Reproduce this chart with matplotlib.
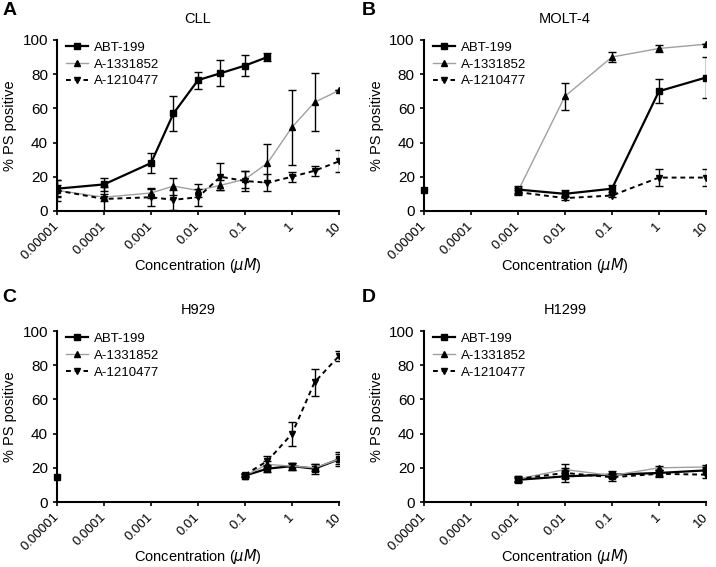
import matplotlib
matplotlib.use('Agg')
from matplotlib import pyplot as plt
from matplotlib.ticker import LogLocator, NullFormatter, FixedLocator

plt.rcParams['font.family'] = ['Liberation Sans', 'DejaVu Sans']

# ---- data ----
# CLL
cll_x = [1e-5, 1e-4, 1e-3, 3e-3, 1e-2, 3e-2, 0.1, 0.3, 1, 3, 10]
cll_abt = [13, 15.5, 28, 57, 76.5, 80.5, 85, 90]
cll_abt_err = [5, 4, 6, 10, 5, 7.5, 6, 2.5]
cll_a133 = [12, 8, 10.5, 14.5, 12, 15, 18.5, 28, 49, 63.5, 70.5]
cll_a133_err = [3, 2, 3, 5, 4, 3, 5, 11, 22, 17, 0]
cll_a121 = [12, 7, 8, 6.5, 8, 20, 17.5, 16.5, 20, 23.5, 29]
cll_a121_err = [6, 7, 5, 6, 5, 8, 6, 5, 3, 3, 6.5]

# MOLT-4
molt_ctrl = 12
molt_x = [1e-3, 1e-2, 0.1, 1, 10]
molt_abt = [12.5, 10, 13, 70, 78]
molt_abt_err = [2, 2, 2, 7, 12]
molt_a133 = [11.5, 67, 90, 95, 97.5]
molt_a133_err = [2, 8, 3, 2, 0]
molt_a121 = [11, 7.5, 9, 19.5, 19.5]
molt_a121_err = [1, 1, 1, 5, 5]

# H929
h929_ctrl = 14.5
h929_x = [0.1, 0.3, 1, 3, 10]
h929_abt = [15.5, 19.5, 21, 19.5, 25]
h929_abt_err = [1, 2, 2, 3, 4]
h929_a133 = [15.5, 22, 21, 20, 25]
h929_a133_err = [1, 2, 2, 2, 3]
h929_a121 = [16, 24, 40, 70, 85.5]
h929_a121_err = [1, 3, 7, 8, 3]

# H1299
h1299_x = [1e-3, 1e-2, 0.1, 1, 10]
h1299_abt = [13, 15, 16, 17, 18.5]
h1299_abt_err = [1, 3, 2, 2, 2]
h1299_a133 = [13.5, 19, 15.5, 20, 20.5]
h1299_a133_err = [1, 3, 1, 1, 1]
h1299_a121 = [13.5, 17, 14.5, 16.5, 16]
h1299_a121_err = [2, 3, 2, 2, 2]

tick_vals = [1e-5, 1e-4, 1e-3, 1e-2, 0.1, 1, 10]
tick_labels = ['0.00001', '0.0001', '0.001', '0.01', '0.1', '1', '10']
names = ['ABT-199', 'A-1331852', 'A-1210477']

styles = [
    dict(color='black', lw=1.6, ls='-', marker='s', ms=5),
    dict(color='#a0a0a0', lw=1.0, ls='-', marker='^', ms=5, mfc='black', mec='black'),
    dict(color='black', lw=1.4, ls=(0, (2.5, 2)), marker='v', ms=5),
]


def draw_series(ax, x, y, err, st, label):
    ax.plot(x[:len(y)], y, label=label, zorder=3, **st)
    ax.errorbar(x[:len(y)], y, yerr=err, fmt='none', ecolor='black',
                elinewidth=1.0, capsize=3, capthick=1.0, zorder=4)


def setup(ax, title, letter, lx, ly):
    ax.set_xscale('log')
    ax.set_xlim(1e-5, 10)
    ax.set_ylim(0, 100)
    ax.set_yticks([0, 20, 40, 60, 80, 100])
    ax.xaxis.set_major_locator(FixedLocator(tick_vals))
    ax.set_xticklabels(tick_labels, rotation=45, ha='right', va='center',
                       rotation_mode='anchor', fontsize=9.5)
    ax.xaxis.set_minor_locator(LogLocator(base=10, subs=range(2, 10)))
    ax.xaxis.set_minor_formatter(NullFormatter())
    ax.tick_params(axis='y', which='major', direction='out', length=3, width=1.2, labelsize=11)
    ax.tick_params(axis='x', which='major', direction='out', length=3, width=1.2, pad=6.5)
    ax.tick_params(axis='x', which='minor', direction='out', length=2, width=1.0)
    for s in ['top', 'right']:
        ax.spines[s].set_visible(False)
    for s in ['left', 'bottom']:
        ax.spines[s].set_linewidth(1.5)
    ax.set_ylabel('% PS positive', fontsize=10.5)
    ax.set_xlabel(r'Concentration ($\mathit{\mu M}$)', fontsize=10.5)
    ax.xaxis.set_label_coords(0.5, -0.262)
    ax.set_title(title, fontsize=10.5, pad=12)
    ax.legend(loc='upper left', bbox_to_anchor=(-0.01, 1.06), frameon=False, fontsize=9.5,
              handlelength=1.7, handletextpad=0.4, labelspacing=0.35)
    fig.text(lx, ly, letter, fontsize=14, fontweight='bold', ha='left', va='top')


fig = plt.figure(figsize=(7.16, 5.67), dpi=100)
axA = fig.add_axes([0.0796, 0.628, 0.394, 0.3016])
axB = fig.add_axes([0.592, 0.628, 0.394, 0.3016])
axC = fig.add_axes([0.0796, 0.1146, 0.394, 0.3016])
axD = fig.add_axes([0.592, 0.1146, 0.394, 0.3016])

# A: CLL
draw_series(axA, cll_x, cll_abt, cll_abt_err, styles[0], names[0])
draw_series(axA, cll_x, cll_a133, cll_a133_err, styles[1], names[1])
draw_series(axA, cll_x, cll_a121, cll_a121_err, styles[2], names[2])
setup(axA, 'CLL', 'A', 0.003, 0.997)

# B: MOLT-4
axB.plot([1e-5], [molt_ctrl], color='black', marker='s', ms=5, ls='none', clip_on=False, zorder=5)
draw_series(axB, molt_x, molt_abt, molt_abt_err, styles[0], names[0])
draw_series(axB, molt_x, molt_a133, molt_a133_err, styles[1], names[1])
draw_series(axB, molt_x, molt_a121, molt_a121_err, styles[2], names[2])
setup(axB, 'MOLT-4', 'B', 0.505, 0.997)

# C: H929
axC.plot([1e-5], [h929_ctrl], color='black', marker='s', ms=5, ls='none', clip_on=False, zorder=5)
draw_series(axC, h929_x, h929_abt, h929_abt_err, styles[0], names[0])
draw_series(axC, h929_x, h929_a133, h929_a133_err, styles[1], names[1])
draw_series(axC, h929_x, h929_a121, h929_a121_err, styles[2], names[2])
setup(axC, 'H929', 'C', 0.003, 0.49)

# D: H1299
draw_series(axD, h1299_x, h1299_abt, h1299_abt_err, styles[0], names[0])
draw_series(axD, h1299_x, h1299_a133, h1299_a133_err, styles[1], names[1])
draw_series(axD, h1299_x, h1299_a121, h1299_a121_err, styles[2], names[2])
setup(axD, 'H1299', 'D', 0.505, 0.49)

fig.savefig('out.png', dpi=100)
